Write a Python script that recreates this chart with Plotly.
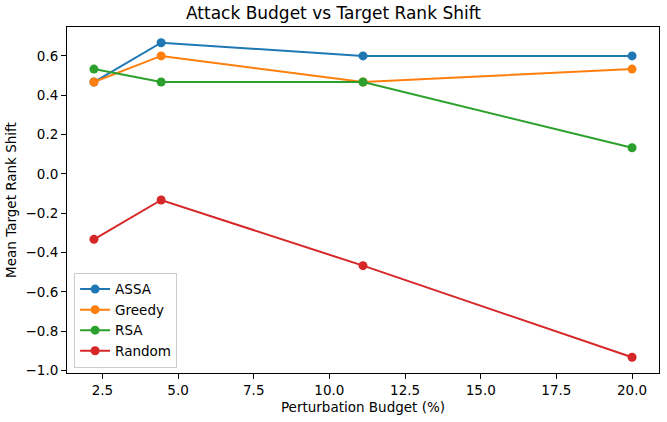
import plotly.graph_objects as go

budgets = [2.22, 4.44, 11.11, 20.0]
series_names = ["ASSA", "Greedy", "RSA", "Random"]
assa = [0.467, 0.667, 0.6, 0.6]
greedy = [0.467, 0.6, 0.467, 0.533]
rsa = [0.533, 0.467, 0.467, 0.133]
random_ = [-0.333, -0.133, -0.467, -0.933]
colors = ["#1f77b4", "#ff7f0e", "#2ca02c", "#d62728"]

x_ticks = [2.5, 5.0, 7.5, 10.0, 12.5, 15.0, 17.5, 20.0]
y_ticks = [0.6, 0.4, 0.2, 0.0, -0.2, -0.4, -0.6, -0.8, -1.0]

fig = go.Figure()
for name, vals, c in zip(series_names, [assa, greedy, rsa, random_], colors):
    fig.add_trace(go.Scatter(
        x=budgets, y=vals, name=name, mode="lines+markers",
        line=dict(color=c, width=2), marker=dict(color=c, size=9),
    ))

font = "DejaVu Sans, sans-serif"
fs = 13.5
fig.update_layout(
    width=667, height=422,
    margin=dict(l=67, r=8, t=27, b=49),
    paper_bgcolor="white", plot_bgcolor="white",
    font=dict(family=font, size=fs, color="black"),
    title=dict(text="Attack Budget vs Target Rank Shift", x=0.5, xanchor="center",
               y=0.982, yanchor="top", font=dict(size=17, color="black")),
    legend=dict(x=0.012, y=0.015, xanchor="left", yanchor="bottom",
                bordercolor="#cccccc", borderwidth=1, bgcolor="rgba(255,255,255,0.8)",
                font=dict(size=fs, color="black"), itemwidth=30, tracegroupgap=0),
    showlegend=True,
)
fig.update_xaxes(
    range=[1.33, 20.89], tickvals=x_ticks, ticktext=[f"{v:.1f}" for v in x_ticks],
    showline=True, linecolor="black", linewidth=1, mirror=True,
    ticks="outside", ticklen=5, tickcolor="black", showgrid=False, zeroline=False,
    title=dict(text="Perturbation Budget (%)", standoff=5, font=dict(size=fs, color="black")),
    tickfont=dict(size=fs, color="black"),
)
fig.update_yaxes(
    range=[-1.013, 0.747], tickvals=y_ticks,
    ticktext=[f"{v:.1f}".replace("-", "\u2212") for v in y_ticks],
    showline=True, linecolor="black", linewidth=1, mirror=True,
    ticks="outside", ticklen=5, tickcolor="black", showgrid=False, zeroline=False,
    title=dict(text="Mean Target Rank Shift", standoff=5, font=dict(size=fs, color="black")),
    tickfont=dict(size=fs, color="black"),
)

fig.write_html("out.html")
